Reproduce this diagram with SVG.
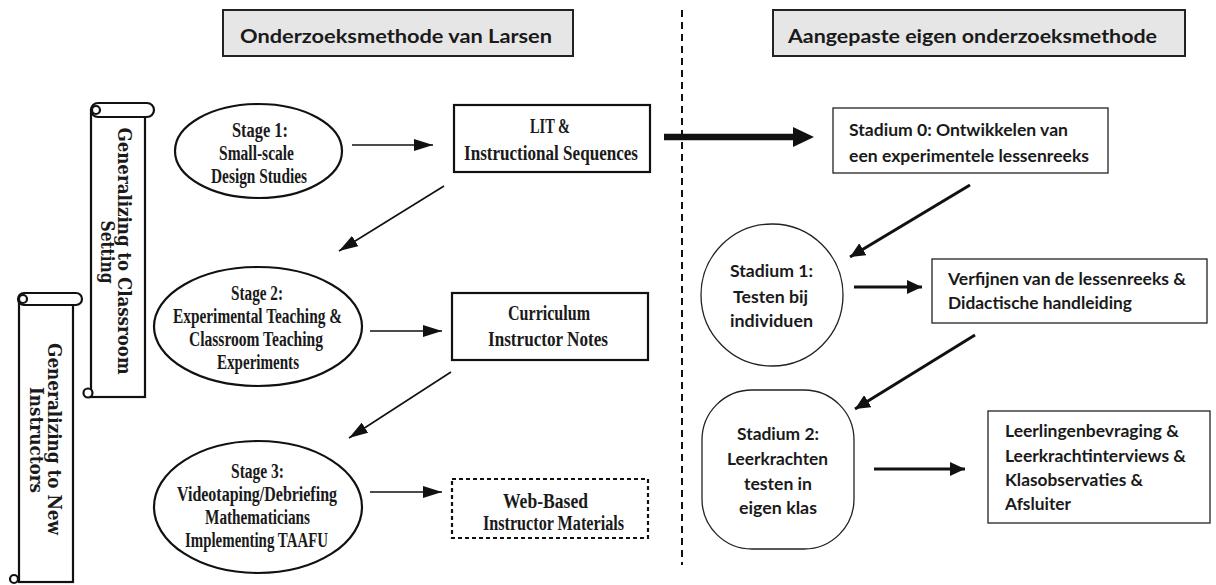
<svg xmlns="http://www.w3.org/2000/svg" width="1216" height="585" viewBox="0 0 1216 585">
  <defs>
    <style>
      .frame { fill: #fff; stroke: #111; stroke-width: 2.2; }
      .thin { fill: #fff; stroke: #222; stroke-width: 1.3; }
      .head { fill: #e6e6e6; stroke: #222; stroke-width: 2; }
      .ser { font-family: "Liberation Serif", "DejaVu Serif", serif; font-weight: bold; font-size: 20px; fill: #1a1a1a; }
      .scr { font-family: "DejaVu Serif", "Liberation Serif", serif; font-weight: bold; font-size: 18px; fill: #1a1a1a; }
      .sans { font-family: Lato, "Liberation Sans", sans-serif; font-weight: bold; font-size: 17.5px; fill: #1a1a1a; }
      .ttl { font-family: Lato, "Liberation Sans", sans-serif; font-weight: bold; font-size: 19px; fill: #1a1a1a; }
      .c { text-anchor: middle; }
      .ln { fill: none; stroke: #111; stroke-width: 1.6; marker-end: url(#h1); }
      .ln2 { fill: none; stroke: #111; stroke-width: 3; marker-end: url(#h2); }
    </style>
    <marker id="h1" markerUnits="userSpaceOnUse" viewBox="0 0 19 12" markerWidth="19" markerHeight="12" refX="19" refY="6" orient="auto">
      <path d="M0,0 L19,6 L0,12 z" fill="#111"/>
    </marker>
    <marker id="h2" markerUnits="userSpaceOnUse" viewBox="0 0 15 14" markerWidth="15" markerHeight="14" refX="15" refY="7" orient="auto">
      <path d="M0,0 L15,7 L0,14 z" fill="#111"/>
    </marker>
    <marker id="h3" markerUnits="userSpaceOnUse" viewBox="0 0 21 20" markerWidth="21" markerHeight="20" refX="0" refY="10" orient="auto">
      <path d="M0,0 L21,10 L0,20 z" fill="#111"/>
    </marker>
  </defs>
  <rect width="1216" height="585" fill="#fff"/>

  <!-- column headers -->
  <g id="header-larsen">
    <rect class="head" x="223" y="10" width="350" height="46"/>
    <text class="ttl" x="240" y="43" textLength="312" lengthAdjust="spacingAndGlyphs">Onderzoeksmethode van Larsen</text>
  </g>
  <g id="header-eigen">
    <rect class="head" x="773" y="10" width="412" height="46"/>
    <text class="ttl" x="788" y="43" textLength="369" lengthAdjust="spacingAndGlyphs">Aangepaste eigen onderzoeksmethode</text>
  </g>

  <!-- divider between the two methods -->
  <line id="divider" x1="682" y1="10" x2="682" y2="565" stroke="#111" stroke-width="2" stroke-dasharray="7 5"/>

  <!-- scroll: new instructors -->
  <g id="scroll-instructors">
    <rect class="frame" x="19" y="299" width="54" height="283"/>
    <rect class="frame" x="18" y="293" width="64" height="12" rx="6"/>
    <circle cx="23" cy="299" r="4" class="frame" stroke-width="1.6"/>
    <circle cx="14" cy="579" r="4" class="frame" stroke-width="1.6"/>
    <text class="scr c" transform="translate(48,439) rotate(90)" textLength="192" lengthAdjust="spacingAndGlyphs">Generalizing to New</text>
    <text class="scr c" transform="translate(30,440) rotate(90)" textLength="106" lengthAdjust="spacingAndGlyphs">Instructors</text>
  </g>

  <!-- scroll: classroom setting -->
  <g id="scroll-classroom">
    <rect class="frame" x="91" y="110" width="54" height="287"/>
    <rect class="frame" x="91" y="103" width="63" height="14" rx="7"/>
    <circle cx="96" cy="110" r="4" class="frame" stroke-width="1.6"/>
    <circle cx="88" cy="393" r="4.5" class="frame" stroke-width="1.6"/>
    <text class="scr c" transform="translate(118,251) rotate(90)" textLength="247" lengthAdjust="spacingAndGlyphs">Generalizing to Classroom</text>
    <text class="scr c" transform="translate(101,252) rotate(90)" textLength="63" lengthAdjust="spacingAndGlyphs">Setting</text>
  </g>

  <!-- Larsen stages -->
  <g id="stage1">
    <ellipse class="frame" cx="258.5" cy="151" rx="83.5" ry="47"/>
    <text class="ser c" x="260" y="137" textLength="56" lengthAdjust="spacingAndGlyphs">Stage 1:</text>
    <text class="ser c" x="256.5" y="160" textLength="75" lengthAdjust="spacingAndGlyphs">Small-scale</text>
    <text class="ser c" x="259" y="183" textLength="96" lengthAdjust="spacingAndGlyphs">Design Studies</text>
  </g>
  <g id="stage2">
    <ellipse class="frame" cx="258" cy="326.5" rx="104" ry="59.5"/>
    <text class="ser c" x="257" y="300" textLength="52" lengthAdjust="spacingAndGlyphs">Stage 2:</text>
    <text class="ser c" x="257.5" y="323" textLength="169" lengthAdjust="spacingAndGlyphs">Experimental Teaching &amp;</text>
    <text class="ser c" x="256" y="346" textLength="134" lengthAdjust="spacingAndGlyphs">Classroom Teaching</text>
    <text class="ser c" x="258" y="369" textLength="82" lengthAdjust="spacingAndGlyphs">Experiments</text>
  </g>
  <g id="stage3">
    <ellipse class="frame" cx="258" cy="507" rx="104" ry="66"/>
    <text class="ser c" x="257.5" y="478" textLength="53" lengthAdjust="spacingAndGlyphs">Stage 3:</text>
    <text class="ser c" x="257" y="501" textLength="160" lengthAdjust="spacingAndGlyphs">Videotaping/Debriefing</text>
    <text class="ser c" x="257.5" y="524" textLength="105" lengthAdjust="spacingAndGlyphs">Mathematicians</text>
    <text class="ser c" x="256.5" y="547" textLength="143" lengthAdjust="spacingAndGlyphs">Implementing TAAFU</text>
  </g>

  <!-- Larsen products -->
  <g id="lit">
    <rect class="frame" x="454" y="105" width="196" height="67"/>
    <text class="ser c" x="550" y="133" textLength="40" lengthAdjust="spacingAndGlyphs">LIT &amp;</text>
    <text class="ser c" x="551" y="160" textLength="174" lengthAdjust="spacingAndGlyphs">Instructional Sequences</text>
  </g>
  <g id="curriculum">
    <rect class="frame" x="452" y="293" width="196" height="67"/>
    <text class="ser c" x="549" y="320" textLength="82" lengthAdjust="spacingAndGlyphs">Curriculum</text>
    <text class="ser c" x="548" y="346" textLength="120" lengthAdjust="spacingAndGlyphs">Instructor Notes</text>
  </g>
  <g id="web">
    <rect x="452" y="479" width="196" height="59" fill="#fff" stroke="#111" stroke-width="2.2" stroke-dasharray="4 3"/>
    <text class="ser c" x="545.5" y="508" textLength="85" lengthAdjust="spacingAndGlyphs">Web-Based</text>
    <text class="ser c" x="553.5" y="530" textLength="141" lengthAdjust="spacingAndGlyphs">Instructor Materials</text>
  </g>

  <!-- own method -->
  <g id="stadium0">
    <rect class="thin" x="833" y="108" width="275" height="65"/>
    <text class="sans" x="849" y="136" textLength="219" lengthAdjust="spacingAndGlyphs">Stadium 0: Ontwikkelen van</text>
    <text class="sans" x="849" y="162" textLength="240" lengthAdjust="spacingAndGlyphs">een experimentele lessenreeks</text>
  </g>
  <g id="stadium1">
    <circle class="thin" cx="772" cy="295" r="71"/>
    <text class="sans c" x="771.5" y="277" textLength="83" lengthAdjust="spacingAndGlyphs">Stadium 1:</text>
    <text class="sans c" x="770.5" y="303" textLength="75" lengthAdjust="spacingAndGlyphs">Testen bij</text>
    <text class="sans c" x="771.5" y="327" textLength="83" lengthAdjust="spacingAndGlyphs">individuen</text>
  </g>
  <g id="verfijnen">
    <rect class="thin" x="932" y="259" width="275" height="64"/>
    <text class="sans" x="948" y="285" textLength="238" lengthAdjust="spacingAndGlyphs">Verfijnen van de lessenreeks &amp;</text>
    <text class="sans" x="948" y="309" textLength="184" lengthAdjust="spacingAndGlyphs">Didactische handleiding</text>
  </g>
  <g id="stadium2">
    <rect class="thin" x="702" y="390" width="152" height="159" rx="50"/>
    <text class="sans c" x="778" y="440" textLength="82" lengthAdjust="spacingAndGlyphs">Stadium 2:</text>
    <text class="sans c" x="777.5" y="465" textLength="101" lengthAdjust="spacingAndGlyphs">Leerkrachten</text>
    <text class="sans c" x="778" y="490" textLength="68" lengthAdjust="spacingAndGlyphs">testen in</text>
    <text class="sans c" x="778" y="514" textLength="78" lengthAdjust="spacingAndGlyphs">eigen klas</text>
  </g>
  <g id="bevraging">
    <rect class="thin" x="988" y="411" width="222" height="112"/>
    <text class="sans" x="1005" y="437" textLength="174" lengthAdjust="spacingAndGlyphs">Leerlingenbevraging &amp;</text>
    <text class="sans" x="1005" y="462" textLength="181" lengthAdjust="spacingAndGlyphs">Leerkrachtinterviews &amp;</text>
    <text class="sans" x="1005" y="486" textLength="138" lengthAdjust="spacingAndGlyphs">Klasobservaties &amp;</text>
    <text class="sans" x="1005" y="510" textLength="66" lengthAdjust="spacingAndGlyphs">Afsluiter</text>
  </g>

  <!-- connectors -->
  <g id="connectors">
    <line class="ln" x1="352" y1="145" x2="433" y2="145"/>
    <line class="ln" x1="444" y1="186" x2="339" y2="251"/>
    <line class="ln" x1="370" y1="331" x2="442" y2="331"/>
    <line class="ln" x1="451" y1="372" x2="349" y2="438"/>
    <line class="ln" x1="370" y1="492" x2="442" y2="492"/>
    <line x1="664" y1="137" x2="793" y2="137" stroke="#111" stroke-width="6.5" marker-end="url(#h3)"/>
    <line class="ln2" x1="970" y1="185" x2="850" y2="257"/>
    <line class="ln2" x1="854" y1="287" x2="922" y2="287"/>
    <line class="ln2" x1="975" y1="335" x2="855" y2="409"/>
    <line class="ln2" x1="874" y1="469" x2="965" y2="469"/>
  </g>
</svg>
